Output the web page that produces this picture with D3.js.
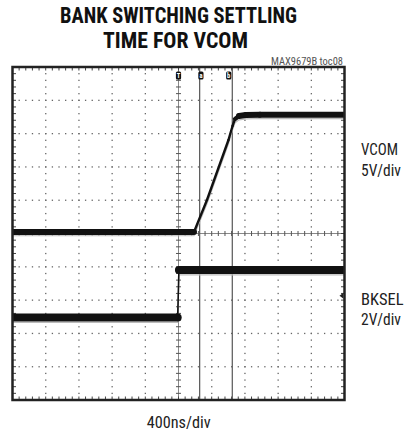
<!DOCTYPE html>
<html><head><meta charset="utf-8">
<script src="https://cdn.jsdelivr.net/npm/d3@7"></script>
<style>
html,body{margin:0;padding:0;background:#fff;}
svg{display:block;}
</style></head>
<body>
<script>
// ---- data (time in ns, 400ns/div; trigger at 0) ----
const titleLines = ["BANK SWITCHING SETTLING", "TIME FOR VCOM"];
const noteText = "MAX9679B toc08";
const timeBaseLabel = "400ns/div";
const channelNames = ["VCOM", "BKSEL"];
const channelScales = ["5V/div", "2V/div"];
const voltsPerDiv = [5, 2];
const channelOffsetDiv = [0, -2.523];

// VCOM trace (ns, V)
const vcomTime  = [-2000, 187, 343, 602, 651, 681, 729, 813, 982, 2000];
const vcomVolts = [0.23, 0.23, 5.03, 14.04, 16.14, 17.19, 17.64, 17.79, 17.84, 17.82];
// BKSEL trace (ns, V)
const bkselTime  = [-2000, -10, 5, 2000];
const bkselVolts = [0, 0, 2.85, 2.85];

// cursors (ns)
const cursorTimes = [255, 648];
const markerTimes = [0, 270, 605];
const markerLabels = ["T", "a", "b"];

// ---- drawing ----
const W = 406, H = 434;
const svg = d3.select("body").append("svg").attr("width", W).attr("height", H);

const x = d3.scaleLinear().domain([-2000, 2000]).range([12.5, 344.5]);
const y = d3.scaleLinear().domain([-5, 5]).range([400, 67]);

const fontN = "'Liberation Sans Narrow','Roboto Condensed','Arial Narrow','Liberation Sans',Arial,sans-serif";

function fitText(sel, txt, x0, y0, len, size, weight, fill) {
  return sel.append("text").text(txt)
    .attr("x", x0).attr("y", y0).attr("textLength", len).attr("lengthAdjust", "spacingAndGlyphs")
    .style("font-family", fontN).style("font-weight", weight).style("font-size", size + "px").attr("fill", fill);
}

// title
fitText(svg, titleLines[0], 60, 22.7, 237, 21.5, "bold", "#111");
fitText(svg, titleLines[1], 103, 47.7, 145, 21.5, "bold", "#111");
fitText(svg, noteText, 271, 64.5, 72, 10, "normal", "#555");

const defs = svg.append("defs");
defs.append("clipPath").attr("id", "plotclip").append("rect")
  .attr("x", x(-2000)).attr("y", y(5)).attr("width", x(2000) - x(-2000)).attr("height", y(-5) - y(5));

const g = svg.append("g");

// dotted graticule
const divX = d3.range(-2000, 2001, 400);
const divY = d3.range(-5, 5.001, 1);
const subX = d3.range(-2000, 2000.1, 80);
const subY = d3.range(-5, 5.001, 0.2);

divX.filter(v => v !== 0 && Math.abs(v) !== 2000).forEach(v => {
  g.selectAll(null).data(subY.slice(1, -1)).enter().append("rect")
    .attr("x", x(v) - 0.6).attr("y", d => y(d) - 0.6).attr("width", 1.3).attr("height", 1.3).attr("fill", "#666");
});
divY.filter(v => v !== 0 && Math.abs(v) !== 5).forEach(v => {
  g.selectAll(null).data(subX.slice(1, -1)).enter().append("rect")
    .attr("x", d => x(d) - 0.6).attr("y", y(v) - 0.6).attr("width", 1.3).attr("height", 1.3).attr("fill", "#666");
});

// center axes with ticks
g.append("line").attr("x1", x(0)).attr("x2", x(0)).attr("y1", y(5)).attr("y2", y(-5))
  .attr("stroke", "#888").attr("stroke-width", 1);
g.append("line").attr("x1", x(-2000)).attr("x2", x(2000)).attr("y1", y(0)).attr("y2", y(0))
  .attr("stroke", "#888").attr("stroke-width", 1);
g.selectAll(null).data(subY.slice(1, -1)).enter().append("line")
  .attr("x1", x(0) - 2.5).attr("x2", x(0) + 2.5).attr("y1", d => y(d)).attr("y2", d => y(d))
  .attr("stroke", "#555").attr("stroke-width", 1);
g.selectAll(null).data(subX.slice(1, -1)).enter().append("line")
  .attr("y1", y(0) - 2.5).attr("y2", y(0) + 2.5).attr("x1", d => x(d)).attr("x2", d => x(d))
  .attr("stroke", "#555").attr("stroke-width", 1);

// frame ticks
g.selectAll(null).data(subX.slice(1, -1)).enter().append("line")
  .attr("x1", d => x(d)).attr("x2", d => x(d)).attr("y1", y(5)).attr("y2", y(5) + 3.5)
  .attr("stroke", "#444").attr("stroke-width", 1);
g.selectAll(null).data(subX.slice(1, -1)).enter().append("line")
  .attr("x1", d => x(d)).attr("x2", d => x(d)).attr("y1", y(-5)).attr("y2", y(-5) - 3.5)
  .attr("stroke", "#444").attr("stroke-width", 1);
g.selectAll(null).data(subY.slice(1, -1)).enter().append("line")
  .attr("x1", x(-2000)).attr("x2", x(-2000) + 3.5).attr("y1", d => y(d)).attr("y2", d => y(d))
  .attr("stroke", "#444").attr("stroke-width", 1);
g.selectAll(null).data(subY.slice(1, -1)).enter().append("line")
  .attr("x1", x(2000)).attr("x2", x(2000) - 3.5).attr("y1", d => y(d)).attr("y2", d => y(d))
  .attr("stroke", "#444").attr("stroke-width", 1);

// cursors
g.selectAll(null).data(cursorTimes).enter().append("line")
  .attr("x1", d => x(d)).attr("x2", d => x(d)).attr("y1", y(5)).attr("y2", y(-5))
  .attr("stroke", "#555").attr("stroke-width", 1.2);

// traces
const tg = g.append("g").attr("clip-path", "url(#plotclip)");
function drawTrace(times, volts, ch, thin, thick) {
  const pts = times.map((t, i) => [x(t), y(volts[i] / voltsPerDiv[ch] + channelOffsetDiv[ch])]);
  // faint noise haze just below flat parts
  tg.append("path").attr("d", d3.line()(pts.map(p => [p[0], p[1] + thick / 2 + 0.8])))
    .attr("fill", "none").attr("stroke", "#bbb").attr("stroke-width", 1.2);
  for (let i = 0; i < pts.length - 1; i++) {
    const [x1, y1] = pts[i], [x2, y2] = pts[i + 1];
    const slope = Math.abs((y2 - y1) / Math.max(0.01, (x2 - x1)));
    const w = slope < 0.15 ? thick : (slope < 1 ? (thick + thin) / 2 : thin);
    tg.append("path").attr("d", d3.line()([pts[i], pts[i + 1]]))
      .attr("fill", "none").attr("stroke", "#111").attr("stroke-width", w)
      .attr("stroke-linecap", "round").attr("stroke-linejoin", "round");
  }
}
drawTrace(vcomTime, vcomVolts, 0, 2.4, 6);
drawTrace(bkselTime, bkselVolts, 1, 1.6, 8);

// frame
g.append("rect").attr("x", x(-2000)).attr("y", y(5)).attr("width", x(2000) - x(-2000)).attr("height", y(-5) - y(5))
  .attr("fill", "none").attr("stroke", "#222").attr("stroke-width", 2.5);

// top markers
const mk = g.selectAll(null).data(markerTimes).enter().append("g")
  .attr("transform", d => `translate(${x(d)},${75.5})`);
mk.append("rect").attr("x", -2.6).attr("y", -4).attr("width", 5.2).attr("height", 8).attr("rx", 1.5).attr("fill", "#111");
mk.append("text").text((d, i) => markerLabels[i]).attr("text-anchor", "middle").attr("y", 2.5)
  .style("font-family", fontN).style("font-size", "6.5px").style("font-weight", "bold").attr("fill", "#fff");

// BKSEL reference marker on right edge
const gy = y(channelOffsetDiv[1] + 0.65);
g.append("path").attr("d", d3.line()([[x(2000) - 1, gy - 3], [x(2000) - 5, gy], [x(2000) - 1, gy + 3]]))
  .attr("fill", "#222");

// channel labels
const labY = [[155, 175.5], [305, 325]];
const labLen = [[37, 40], [42.5, 40]];
channelNames.forEach((n, i) => {
  fitText(svg, n, 361, labY[i][0], labLen[i][0], 17, "normal", "#222");
  fitText(svg, channelScales[i], 361, labY[i][1], labLen[i][1], 17, "normal", "#222");
});

fitText(svg, timeBaseLabel, 146.7, 428, 64, 17, "normal", "#222");
</script>
</body></html>
